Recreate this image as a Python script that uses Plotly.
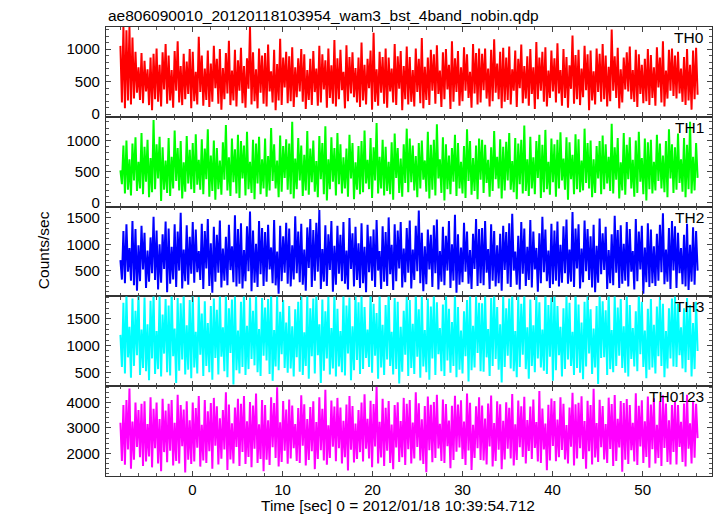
import numpy as np
import plotly.graph_objects as go
from plotly.subplots import make_subplots

TITLE = "ae806090010_20120118103954_wam3_bst_4band_nobin.qdp"
XTITLE = "Time [sec] 0 = 2012/01/18 10:39:54.712"
YTITLE = "Counts/sec"
BANDS = ["TH0", "TH1", "TH2", "TH3", "TH0123"]
COLORS = ["#ff0000", "#00ff00", "#0000ff", "#00ffff", "#ff00ff"]
T_START, T_END = -8.0, 56.1

th0 = [
    1050, 180, 1340, 90, 1290, 210, 1340, 150, 1180, 240, 960, 330, 720, 220, 940, 170,
    820, 350, 690, 140, 870, 60, 930, 230, 1010, 190, 760, 120, 950, 380, 1080, 160,
    900, 210, 680, 100, 970, 360, 1120, 180, 740, 140, 930, 230, 810, 310, 1000, 90,
    960, 200, 650, 150, 1190, 340, 900, 130, 700, 220, 980, 110, 780, 190, 1050, 400,
    850, 160, 1000, 70, 710, 230, 940, 320, 1130, 140, 670, 210, 990, 120, 830, 360,
    1020, 170, 740, 100, 860, 390, 1340, 150, 950, 200, 690, 90, 1010, 330, 900, 160,
    940, 120, 1070, 350, 660, 180, 990, 60, 770, 210, 1160, 140, 870, 410, 960, 170,
    890, 200, 1030, 110, 720, 260, 860, 350, 1000, 190, 920, 80, 680, 220, 850, 140,
    970, 340, 700, 130, 1050, 180, 920, 380, 830, 100, 1010, 250, 750, 160, 1140, 120,
    860, 230, 990, 370, 650, 90, 1060, 200, 880, 320, 950, 260, 710, 180, 870, 110,
    1100, 210, 760, 150, 850, 400, 980, 70, 1250, 190, 690, 130, 960, 330, 880, 160,
    1010, 100, 870, 350, 700, 180, 1080, 140, 890, 390, 970, 60, 740, 230, 1040, 150,
    880, 190, 680, 120, 1010, 340, 850, 170, 1170, 90, 730, 220, 870, 140, 990, 360,
    920, 160, 1060, 310, 670, 110, 950, 230, 1000, 380, 760, 80, 1120, 190, 860, 340,
    970, 130, 720, 200, 1030, 360, 920, 250, 650, 100, 1080, 320, 940, 150, 1010, 180,
    930, 370, 1010, 240, 700, 120, 990, 200, 1150, 330, 780, 230, 960, 90, 1020, 190,
    870, 220, 1040, 150, 690, 360, 980, 110, 850, 400, 1070, 170, 740, 240, 890, 130,
    1000, 310, 720, 80, 1110, 230, 870, 360, 960, 190, 1030, 120, 670, 250, 980, 350,
    860, 180, 1090, 320, 680, 130, 1000, 250, 880, 100, 750, 390, 1210, 160, 910, 230,
    990, 140, 700, 260, 1050, 370, 920, 60, 980, 210, 660, 150, 1010, 340, 930, 190,
    1080, 230, 900, 120, 730, 200, 1300, 360, 890, 250, 1020, 90, 690, 180, 870, 380,
    950, 350, 1040, 230, 680, 190, 990, 110, 920, 310, 760, 170, 850, 200, 1000, 140,
    910, 250, 720, 130, 1030, 410, 870, 180, 1120, 120, 670, 240, 990, 360, 1010, 280,
    900, 240, 960, 320, 700, 190, 880, 140, 1000, 210, 760, 70, 980, 230, 1020, 300,
]
th1 = [
    520, 300, 920, 150, 1000, 210, 700, 120, 950, 360, 1050, 190, 660, 230, 1120, 140,
    900, 340, 1010, 90, 720, 170, 1330, 220, 940, 390, 1060, 30, 890, 210, 680, 160,
    1040, 110, 740, 230, 1160, 350, 880, 200, 990, 70, 650, 180, 1070, 310, 850, 220,
    960, 160, 1100, 290, 690, 210, 1020, 140, 870, 380, 1180, 100, 760, 190, 1000, 50,
    880, 220, 680, 130, 970, 370, 1250, 200, 730, 110, 1030, 330, 860, 150, 1090, 80,
    990, 390, 920, 120, 1140, 220, 660, 160, 1010, 60, 950, 310, 1060, 140, 700, 230,
    1030, 100, 750, 200, 1200, 350, 940, 230, 680, 90, 1080, 180, 910, 400, 1020, 210,
    950, 140, 1300, 70, 710, 220, 1040, 360, 920, 110, 770, 200, 1150, 130, 870, 330,
    1000, 180, 670, 90, 1070, 380, 960, 140, 1230, 40, 700, 220, 1050, 340, 880, 120,
    1120, 300, 940, 150, 730, 230, 870, 100, 1090, 390, 960, 60, 650, 210, 910, 140,
    990, 170, 1160, 310, 690, 220, 1040, 80, 890, 360, 1280, 150, 740, 230, 1010, 120,
    900, 190, 660, 140, 970, 50, 1110, 400, 880, 160, 710, 100, 940, 320, 1190, 170,
    1030, 330, 920, 200, 750, 90, 960, 230, 1000, 370, 680, 180, 1140, 70, 930, 210,
    1010, 120, 1260, 390, 700, 160, 1050, 40, 940, 220, 760, 140, 880, 340, 1090, 110,
    960, 230, 660, 150, 910, 80, 1180, 350, 990, 130, 720, 190, 920, 60, 1030, 370,
    1010, 160, 930, 320, 690, 100, 890, 190, 1150, 380, 740, 230, 1020, 70, 900, 200,
    980, 360, 1120, 210, 670, 170, 1040, 60, 950, 300, 1010, 150, 1240, 190, 700, 110,
    1060, 230, 730, 140, 990, 400, 1090, 80, 930, 170, 1170, 220, 660, 130, 1030, 330,
    940, 100, 1010, 230, 1130, 360, 710, 210, 1050, 50, 970, 380, 770, 140, 1100, 220,
    1020, 170, 680, 200, 1190, 320, 960, 230, 1000, 90, 700, 160, 910, 390, 990, 140,
    1080, 220, 940, 310, 740, 190, 1270, 150, 890, 370, 1040, 70, 650, 200, 1120, 130,
    930, 380, 1050, 230, 690, 100, 1000, 160, 1140, 340, 720, 140, 1030, 40, 970, 220,
    1010, 150, 660, 200, 1090, 350, 950, 230, 760, 170, 990, 90, 1180, 390, 940, 160,
    890, 210, 1110, 320, 700, 180, 1040, 90, 930, 220, 1300, 150, 740, 200, 960, 400,
]
th2 = [
    700, 330, 1250, 260, 1380, 480, 930, 310, 1440, 220, 1290, 120, 980, 300, 1350, 520,
    1220, 170, 880, 290, 1130, 450, 1520, 320, 1260, 140, 1000, 270, 1190, 530, 1430, 90,
    1300, 250, 950, 330, 1380, 190, 1240, 500, 1600, 160, 900, 300, 1360, 230, 1140, 440,
    1420, 270, 1280, 470, 870, 320, 1390, 150, 1250, 540, 1480, 210, 1020, 80, 1330, 290,
    1180, 460, 1450, 180, 920, 310, 1140, 220, 1370, 510, 960, 280, 1550, 200, 1290, 250,
    1400, 160, 890, 300, 1340, 490, 1620, 110, 1260, 270, 1010, 190, 1440, 430, 1310, 210,
    1230, 290, 1370, 520, 940, 260, 1460, 220, 860, 60, 1350, 300, 1150, 460, 1410, 250,
    1300, 200, 980, 330, 1530, 450, 1240, 280, 1390, 230, 900, 120, 1320, 550, 1480, 190,
    1270, 310, 1410, 480, 1650, 150, 910, 290, 1360, 210, 1190, 510, 1440, 100, 970, 230,
    1350, 440, 1180, 300, 1420, 250, 880, 140, 1500, 530, 1210, 200, 1330, 320, 1020, 170,
    1400, 260, 950, 90, 1370, 470, 1150, 310, 1280, 190, 1460, 500, 870, 150, 1340, 290,
    1230, 210, 1510, 430, 990, 130, 1380, 300, 1260, 540, 1420, 180, 920, 280, 1310, 460,
    1450, 160, 900, 320, 1350, 490, 1640, 260, 1220, 110, 960, 240, 1280, 520, 1180, 190,
    1360, 450, 1470, 140, 870, 290, 1330, 220, 1160, 500, 1440, 170, 1000, 310, 1560, 80,
    1190, 230, 940, 280, 1410, 480, 1240, 250, 890, 150, 1200, 530, 1480, 210, 1290, 260,
    1310, 220, 1440, 460, 910, 150, 1380, 310, 1250, 200, 980, 260, 1200, 120, 1350, 510,
    1230, 250, 1400, 190, 1580, 500, 860, 230, 1160, 140, 1420, 440, 1300, 210, 950, 320,
    1460, 180, 1240, 520, 930, 100, 1210, 260, 1520, 470, 1280, 300, 880, 170, 1390, 240,
    1260, 310, 1430, 200, 990, 270, 1340, 450, 1470, 250, 900, 290, 1610, 190, 1300, 540,
    1380, 160, 920, 280, 1450, 490, 1290, 320, 1150, 180, 1370, 90, 970, 270, 1490, 430,
    1210, 510, 1330, 150, 890, 260, 1190, 220, 1540, 460, 1270, 170, 1360, 250, 1010, 310,
    1420, 200, 1290, 480, 870, 140, 1480, 300, 1240, 520, 1350, 60, 940, 280, 1400, 190,
    1280, 260, 960, 210, 1200, 310, 1370, 470, 1590, 240, 900, 290, 1310, 150, 1440, 500,
    1340, 170, 1220, 450, 930, 240, 1180, 200, 1390, 130, 990, 290, 1320, 230, 1250, 500,
]
th3 = [
    1200, 600, 1800, 480, 1950, 780, 1350, 400, 1880, 620, 1650, 820, 2000, 450, 1300, 580,
    1900, 520, 1400, 350, 1840, 760, 1980, 470, 1270, 560, 1930, 420, 1580, 850, 1870, 500,
    1750, 440, 2010, 800, 1320, 300, 1890, 530, 1790, 740, 1960, 460, 1380, 550, 1850, 390,
    1990, 590, 1260, 480, 1910, 830, 1600, 430, 1830, 620, 1420, 500, 1740, 360, 1880, 770,
    1670, 460, 1940, 790, 1340, 520, 1990, 410, 1700, 860, 1860, 270, 1930, 540, 1280, 480,
    1820, 600, 2020, 450, 1370, 560, 1900, 750, 1650, 630, 1960, 500, 1310, 430, 1890, 810,
    1710, 720, 1870, 470, 2000, 340, 1290, 610, 1940, 540, 1630, 840, 1850, 580, 1430, 490,
    1740, 570, 1360, 420, 1680, 780, 1820, 510, 2030, 450, 1250, 620, 1950, 380, 1700, 800,
    1880, 480, 1990, 820, 1400, 300, 1860, 530, 1640, 760, 1920, 460, 1330, 570, 2010, 420,
    1690, 610, 1270, 500, 1960, 440, 1750, 850, 1900, 350, 1360, 540, 1980, 730, 1810, 470,
    1930, 560, 1720, 770, 1300, 600, 2040, 490, 1780, 810, 1610, 380, 1950, 590, 1390, 450,
    1760, 740, 1990, 620, 1260, 460, 1890, 560, 1820, 290, 1350, 510, 1650, 830, 1910, 430,
    1850, 580, 1410, 470, 2000, 790, 1680, 400, 1940, 610, 1290, 500, 1880, 360, 1730, 760,
    1960, 450, 1810, 840, 1330, 520, 1770, 430, 2020, 720, 1690, 490, 1440, 620, 1990, 410,
    1720, 550, 1280, 480, 1640, 800, 1850, 330, 1980, 540, 1370, 590, 1930, 860, 1800, 520,
    1790, 510, 1960, 780, 1310, 430, 1890, 620, 2030, 750, 1720, 550, 1400, 310, 1940, 600,
    1700, 810, 1880, 570, 2000, 520, 1270, 410, 1920, 600, 1780, 830, 1990, 560, 1340, 380,
    1860, 620, 1380, 500, 1950, 760, 1810, 590, 1300, 530, 2020, 470, 1760, 790, 1900, 340,
    1980, 540, 1740, 820, 1350, 420, 1700, 560, 1930, 740, 1800, 620, 1260, 450, 2040, 580,
    1770, 490, 1430, 370, 1820, 610, 1990, 850, 1680, 470, 1320, 590, 1740, 280, 1960, 770,
    1830, 780, 1660, 450, 2010, 560, 1290, 500, 1940, 620, 1710, 810, 1870, 580, 1360, 490,
    1950, 420, 1760, 750, 1330, 610, 1640, 520, 2000, 840, 1820, 600, 1280, 390, 1690, 550,
    1870, 590, 1390, 480, 1730, 800, 1910, 620, 1780, 410, 1270, 570, 1700, 760, 1880, 610,
    1940, 600, 1780, 820, 1340, 570, 1700, 500, 1890, 730, 1760, 420, 1420, 560, 1820, 900,
]
th0123 = [
    3200, 1700, 3900, 1550, 4100, 2150, 4550, 1400, 3250, 1750, 4000, 2250, 3700, 1850, 3950, 1500,
    4050, 1680, 3150, 1880, 4200, 1450, 3750, 2200, 4000, 1600, 3350, 1300, 4150, 2050, 3680, 1650,
    3950, 2100, 4100, 1520, 3200, 1700, 4300, 1600, 3900, 2280, 3720, 1250, 4050, 1750, 3300, 1580,
    4000, 1680, 3780, 2220, 4250, 1480, 3120, 1720, 4100, 1620, 3650, 2080, 3980, 1400, 4180, 2300,
    3850, 1560, 3380, 1790, 3700, 2150, 4400, 1350, 3920, 1760, 3180, 1600, 3800, 2250, 4150, 1500,
    3950, 2050, 4250, 1580, 3260, 1860, 4020, 1450, 3880, 2180, 4350, 1620, 3140, 1780, 4100, 1300,
    3900, 1750, 3300, 1540, 4200, 2240, 3980, 1820, 4600, 1480, 3220, 1660, 4060, 2100, 3720, 1590,
    4120, 1800, 3880, 2200, 3150, 1700, 3780, 1620, 4280, 2300, 3930, 1520, 3350, 1740, 3820, 2080,
    4050, 1380, 3230, 1780, 4200, 2120, 3750, 1720, 4500, 1550, 3100, 1820, 4080, 2260, 3840, 1690,
    4180, 2200, 3800, 1600, 3280, 1850, 3920, 1330, 4250, 2140, 3860, 1640, 3170, 1780, 3700, 2050,
    4000, 1680, 4320, 2180, 3360, 1800, 4070, 1450, 3940, 2270, 4620, 1600, 3240, 1840, 4150, 1500,
    3790, 2100, 4060, 1620, 3130, 1380, 3900, 2230, 4010, 1660, 3270, 1850, 4180, 1540, 3950, 2160,
    4100, 1600, 3210, 1800, 4400, 2250, 3970, 1720, 3340, 1580, 3860, 1260, 4230, 2120, 3910, 1650,
    4020, 1820, 4300, 2190, 3160, 1700, 4120, 1620, 3940, 2280, 3290, 1420, 3870, 1740, 4260, 2060,
    3920, 2230, 4090, 1780, 3250, 1540, 4350, 2110, 3990, 1350, 3120, 1820, 3850, 2200, 4200, 1740,
    3880, 1720, 3370, 1560, 3960, 2270, 4270, 1480, 3190, 1700, 4050, 2140, 3930, 1380, 3280, 1760,
    4010, 2180, 3790, 1800, 4330, 1520, 3140, 1740, 4080, 2240, 3850, 1860, 4220, 1600, 3310, 2090,
    3840, 1780, 4120, 2210, 3230, 1680, 4450, 1620, 3760, 2150, 3170, 1340, 3910, 1720, 4160, 2290,
    4060, 1690, 3330, 1850, 4200, 2130, 3950, 1760, 3110, 1600, 3800, 2260, 4380, 1520, 3930, 1800,
    3990, 2200, 4240, 1780, 3270, 1400, 4070, 2080, 3900, 1560, 4540, 1840, 3190, 1660, 4110, 2240,
    3860, 1760, 3150, 1620, 4190, 2170, 3940, 1500, 4290, 1700, 3360, 2230, 4060, 1280, 3980, 1750,
    4140, 1580, 3900, 2120, 3200, 1680, 4360, 1540, 3870, 2270, 4090, 1620, 3260, 1860, 4230, 1440,
    3920, 2160, 4170, 1600, 3120, 1820, 4050, 1500, 4280, 2210, 3960, 1660, 3300, 1560, 3900, 2050,
    4040, 1560, 3900, 2250, 3240, 1660, 3960, 1480, 4300, 2180, 3180, 1600, 4070, 1830, 3950, 2600,
]
SERIES = [th0, th1, th2, th3, th0123]

Y_RANGES = [[-40, 1340], [-60, 1380], [10, 1715], [240, 1920], [1110, 4640]]
Y_DTICK = [500, 500, 500, 500, 1000]
Y_MINOR = [100, 100, 100, 100, 200]
X_RANGE = [-9.6, 57.7]

FONT = "Liberation Sans, Arial, Helvetica, sans-serif"
W, H = 717, 516
ML, MR, MT, MB = 106, 5, 27, 40
PW, PH = W - ML - MR, H - MT - MB

fig = make_subplots(rows=5, cols=1, shared_xaxes=True, vertical_spacing=0)

for i, (vals, col) in enumerate(zip(SERIES, COLORS)):
    t = np.linspace(T_START, T_END, len(vals))
    fig.add_trace(go.Scatter(x=t, y=vals, mode="lines",
                             line=dict(color=col, width=2.0),
                             showlegend=False, hoverinfo="skip"),
                  row=i + 1, col=1)
    fig.update_yaxes(range=Y_RANGES[i], dtick=Y_DTICK[i],
                     minor=dict(dtick=Y_MINOR[i], ticks="inside", ticklen=3,
                                tickcolor="#555", tickwidth=1),
                     row=i + 1, col=1)

axis_common = dict(showline=True, linecolor="#333", linewidth=1.3, mirror="allticks",
                   ticks="inside", ticklen=5, tickcolor="#444", tickwidth=1,
                   showgrid=False, zeroline=False,
                   tickfont=dict(family=FONT, size=15, color="black"))
fig.update_xaxes(**axis_common, range=X_RANGE, dtick=10,
                 minor=dict(dtick=2, ticks="inside", ticklen=3, tickcolor="#555", tickwidth=1))
fig.update_yaxes(**axis_common, ticklabelstandoff=2)

ann = [
    dict(text=TITLE, x=0.0, xanchor="left", y=1 + (MT - 15) / PH, yanchor="middle",
         font=dict(size=15.5)),
    dict(text=XTITLE, x=(397.5 - ML) / PW, xanchor="center",
         y=(MT + PH - 505) / PH, yanchor="middle", font=dict(size=15.5)),
    dict(text=YTITLE, x=(43 - ML) / PW, xanchor="center", y=0.503, yanchor="middle",
         textangle=-90, font=dict(size=15.5)),
]
for i, name in enumerate(BANDS):
    top = MT + i * PH / 5
    ann.append(dict(text=name, x=(706 - ML) / PW, xanchor="right",
                    y=(MT + PH - (top + 10.5)) / PH, yanchor="middle",
                    font=dict(size=15.5)))
for a in ann:
    a.update(xref="paper", yref="paper", showarrow=False)
    a["font"].update(family=FONT, color="black")

fig.update_layout(width=W, height=H, margin=dict(l=ML, r=MR, t=MT, b=MB),
                  paper_bgcolor="white", plot_bgcolor="white",
                  annotations=ann, font=dict(family=FONT, color="black"))

fig.write_html("out.html", config={"displayModeBar": False},
               post_script="document.body.style.margin='0';document.body.style.overflow='hidden';")
